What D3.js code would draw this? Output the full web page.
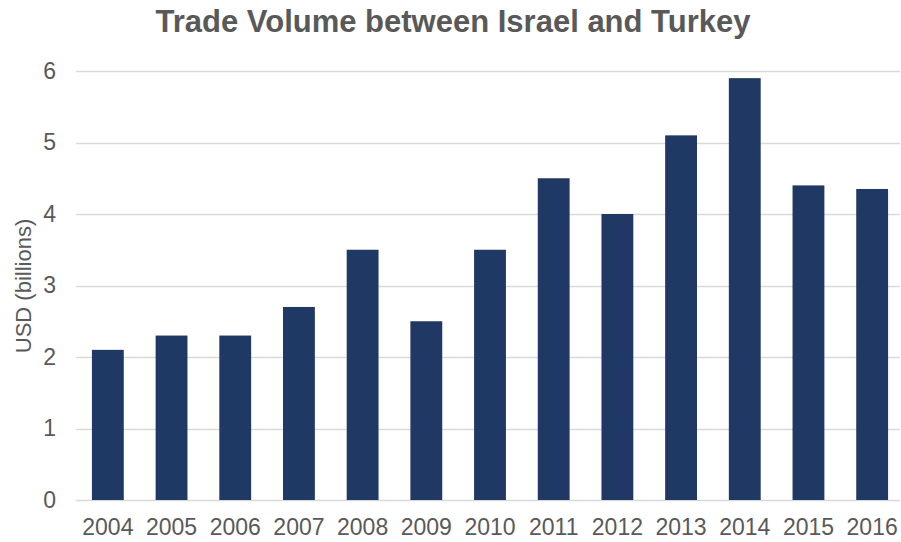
<!DOCTYPE html>
<html>
<head>
<meta charset="utf-8">
<script src="https://cdn.jsdelivr.net/npm/d3@7"></script>
<style>
  body { margin: 0; background: #fff; }
  svg { display: block; font-family: "Liberation Sans", Arial, sans-serif; }
</style>
</head>
<body>
<div id="chart"></div>
<script>
// chart data
const years = ["2004", "2005", "2006", "2007", "2008", "2009", "2010", "2011", "2012", "2013", "2014", "2015", "2016"];
const volumes = [2.1, 2.3, 2.3, 2.7, 3.5, 2.5, 3.5, 4.5, 4.0, 5.1, 5.9, 4.4, 4.35];
const yTicks = [0, 1, 2, 3, 4, 5, 6];

const width = 901, height = 542;
const margin = { top: 71, right: -3, bottom: 42, left: 76 };

const svg = d3.select("#chart").append("svg")
    .attr("width", width)
    .attr("height", height);

const x = d3.scaleBand()
    .domain(years)
    .range([margin.left, width - margin.right])
    .paddingInner(0.5)
    .paddingOuter(0.25);

const y = d3.scaleLinear()
    .domain([0, 6])
    .range([height - margin.bottom, margin.top]);

// gridlines
svg.append("g")
    .selectAll("line")
    .data(yTicks)
    .join("line")
    .attr("x1", margin.left)
    .attr("x2", 900)
    .attr("y1", d => Math.round(y(d)) + 0.5)
    .attr("y2", d => Math.round(y(d)) + 0.5)
    .attr("stroke", "#d9d9d9")
    .attr("stroke-width", 1.5);

// bars
svg.append("g")
    .selectAll("rect")
    .data(years.map((yr, i) => ({ year: yr, value: volumes[i] })))
    .join("rect")
    .attr("x", d => x(d.year))
    .attr("y", d => y(d.value))
    .attr("width", x.bandwidth())
    .attr("height", d => y(0) - y(d.value))
    .attr("fill", "#203864");

// y axis labels
const yAxis = svg.append("g")
    .attr("transform", `translate(${margin.left - 20},0)`)
    .call(d3.axisLeft(y).tickValues(yTicks).tickFormat(d3.format("d")).tickSize(0).tickPadding(0));
yAxis.select(".domain").remove();
yAxis.attr("font-size", 23).attr("font-family", "Liberation Sans, Arial, sans-serif");
yAxis.selectAll("text").attr("fill", "#595959");

// x axis labels
const xAxis = svg.append("g")
    .attr("transform", `translate(0,${y(0)})`)
    .call(d3.axisBottom(x).tickSize(0).tickPadding(19));
xAxis.select(".domain").remove();
xAxis.attr("font-size", 23).attr("font-family", "Liberation Sans, Arial, sans-serif");
xAxis.selectAll("text").attr("fill", "#595959");

// title
svg.append("text")
    .attr("x", 453)
    .attr("y", 32)
    .attr("text-anchor", "middle")
    .attr("font-size", 31)
    .attr("font-weight", "bold")
    .attr("fill", "#595959")
    .text("Trade Volume between Israel and Turkey");

// y axis title
svg.append("text")
    .attr("transform", "translate(31,286) rotate(-90)")
    .attr("text-anchor", "middle")
    .attr("font-size", 22)
    .attr("fill", "#595959")
    .text("USD (billions)");
</script>
</body>
</html>
